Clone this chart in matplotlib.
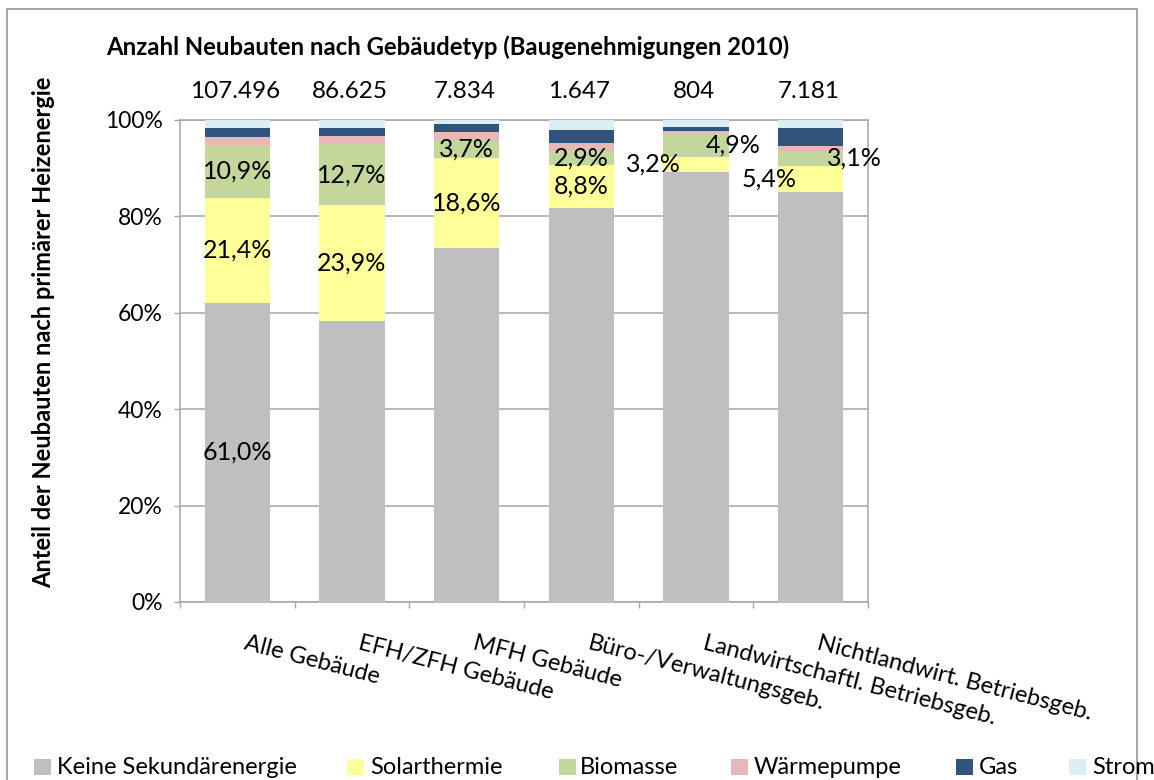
import matplotlib
matplotlib.use("Agg")
import matplotlib.pyplot as plt
from matplotlib.patches import Rectangle
import numpy as np

plt.rcParams['font.family'] = ['Lato', 'DejaVu Sans']

categories = ["Alle Gebäude", "EFH/ZFH Gebäude", "MFH Gebäude",
              "Büro-/Verwaltungsgeb.", "Landwirtschaftl. Betriebsgeb.",
              "Nichtlandwirt. Betriebsgeb."]
totals = ["107.496", "86.625", "7.834", "1.647", "804", "7.181"]
series_names = ["Keine Sekundärenergie", "Solarthermie", "Biomasse",
                "Wärmepumpe", "Gas", "Strom"]
keine = [61.0, 57.8, 72.9, 81.6, 89.2, 85.1]
solar = [21.4, 23.9, 18.6, 8.8, 3.2, 5.4]
biomasse = [10.9, 12.7, 3.7, 2.9, 4.9, 3.1]
waerme = [1.6, 1.6, 1.6, 1.6, 0.4, 1.1]
gas = [1.7, 1.7, 1.7, 2.7, 0.9, 3.7]
strom = [1.7, 1.6, 0.8, 2.1, 1.4, 1.6]
colors = ["#bfbfbf", "#ffff99", "#c4d79b", "#e6b9b8", "#31547d", "#dbeef4"]

series = [keine, solar, biomasse, waerme, gas, strom]
data = np.array(series, dtype=float)
shares = data / data.sum(axis=0) * 100.0

W, H = 1154, 780
fig = plt.figure(figsize=(W / 100, H / 100), dpi=100)
ax = fig.add_axes([180 / W, (H - 602) / H, 688 / W, 482 / H])

x = np.arange(len(categories))
grid_c = "#a6a6a6"
bottom = np.zeros(len(categories))
bottoms = []
for vals, col in zip(shares, colors):
    ax.bar(x, vals, width=0.567, bottom=bottom, color=col, zorder=3, linewidth=0)
    bottoms.append(bottom.copy())
    bottom = bottom + vals

ax.set_xlim(-0.5, len(categories) - 0.5)
ax.set_ylim(0, 100)
ax.set_yticks(np.arange(0, 101, 20))
ax.set_yticklabels([f"{v}%" for v in range(0, 101, 20)], fontsize=16.5)
ax.yaxis.grid(True, color=grid_c, linewidth=1.1, zorder=0)
ax.set_axisbelow(True)
ax.tick_params(axis='y', direction='out', length=4.5, width=1.0, color=grid_c, pad=8)
ax.set_xticks(np.arange(-0.5, len(categories), 1.0))
ax.set_xticklabels([])
ax.tick_params(axis='x', direction='out', length=4.5, width=1.0, color=grid_c)
for side in ['left', 'bottom', 'right', 'top']:
    ax.spines[side].set_color(grid_c)
    ax.spines[side].set_linewidth(1.1)

# data labels: (series index, category index, x offset)
label_spec = [(0, 0, 0.0), (1, 0, 0.0), (2, 0, 0.0),
              (1, 1, 0.0), (2, 1, 0.0),
              (1, 2, 0.0), (2, 2, 0.0),
              (1, 3, 0.0), (2, 3, 0.0),
              (1, 4, -0.375), (2, 4, 0.32),
              (1, 5, -0.36), (2, 5, 0.38)]
for s, c, dx in label_spec:
    yc = bottoms[s][c] + shares[s][c] / 2
    txt = f"{series[s][c]:.1f}".replace('.', ',') + "%"
    ax.text(c + dx, yc, txt, ha='center', va='center', fontsize=18,
            color='#000000', zorder=5)

for i, t in enumerate(totals):
    ax.text(i - 0.02, 106, t, ha='center', va='center', fontsize=17.5,
            clip_on=False)

for i, cat in enumerate(categories):
    ax.text(i + 10 / 114.7, -31 / 482, cat, transform=ax.get_xaxis_transform(),
            ha='left', va='top', rotation=-14.5, rotation_mode='anchor',
            fontsize=17, clip_on=False)

fig.text(106 / W, 1 - 47 / H, "Anzahl Neubauten nach Gebäudetyp (Baugenehmigungen 2010)",
         ha='left', va='center', fontsize=17.2, fontweight='bold')
fig.text(44 / W, 1 - 332 / H, "Anteil der Neubauten nach primärer Heizenergie",
         ha='center', va='center', rotation=90, fontsize=17, fontweight='bold')

# outer frame
fig.add_artist(Rectangle((7 / W, -0.1), (1137 - 7) / W, 1.1 - 9 / H,
                         transform=fig.transFigure, fill=False,
                         edgecolor="#8c8c8c", linewidth=1.1))

# legend
sq_x = [34, 347, 559, 731, 956, 1069]
tx_x = [57, 370, 580, 754, 979, 1092]
for name, col, sx, tx in zip(series_names, colors, sq_x, tx_x):
    fig.add_artist(Rectangle((sx / W, 1 - 775 / H), 17 / W, 16 / H,
                             transform=fig.transFigure, facecolor=col,
                             edgecolor='none'))
    fig.text(tx / W, 1 - 767 / H, name, ha='left', va='center', fontsize=17)

fig.savefig("out.png", dpi=100)
